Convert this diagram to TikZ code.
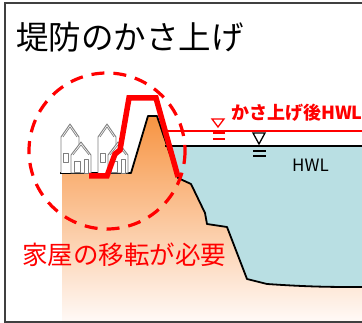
\documentclass[tikz,border=0pt]{standalone}
\usepackage{fontspec}
\setmainfont{Noto Sans CJK JP}
\usetikzlibrary{positioning}

\definecolor{river}{RGB}{185,223,227}
\definecolor{soil}{RGB}{247,148,66}
\definecolor{soilpale}{RGB}{255,250,248}
\definecolor{housegray}{RGB}{128,128,128}

\tikzset{
  houseline/.style={draw=housegray, line width=0.9pt, fill=white, line join=round},
  hwlmark/.style={line width=1.3pt},
  bankline/.style={line width=1.8pt, line join=round},
}

\begin{document}
\begin{tikzpicture}[x=1pt, y=-1pt]
\useasboundingbox (0,0) rectangle (362,323);
\fill [white] (0,0) rectangle (362,323);

% river water, the bank is filled over it
\fill [river] (165,146) rectangle (362,300);

% ground and levee
\shade [top color=soil, bottom color=soilpale]
      (62,173) -- (131,173) -- (148,116) -- (157,116) -- (178,178) -- (191,184)
      -- (205,213) -- (207,224) -- (227,227) -- (247,279) -- (267,284)
      to [bend right=2] (362,287) -- (362,323) -- (62,323) -- cycle;
\draw [bankline] (60,173) -- (131,173) -- (148,116) -- (157,116) -- (178,178)
      -- (191,184) -- (205,213) -- (207,224) -- (227,227) -- (247,279) -- (267,284)
      to [bend right=2] (362,287);
\draw [line width=1.2pt] (165,146) -- (362,146);

% houses behind the levee
\foreach \dx in {58,95} {
  \begin{scope}[shift={(\dx,173)}]
    \draw [houseline] (3,0) -- (3,-36) -- (12,-49) -- (21,-36) -- (21,0);
    \draw [housegray, line width=0.7pt] (5,-36) -- (12,-46) -- (19,-36);
    \draw [houseline] (5,-20) rectangle (10,-11);
    \draw [houseline] (13,0) -- (13,-18) -- (23,-31) -- (33,-18) -- (33,0) -- cycle;
    \draw [housegray, line width=0.7pt] (15,-18) -- (23,-28) -- (31,-18);
    \draw [houseline] (16,-12) rectangle (22,-1);
    \draw [houseline] (26,-14) rectangle (30,0);
  \end{scope}
}

% water levels
\draw [red, line width=2pt] (166,131) -- (362,131);
\draw [hwlmark] (253,133) -- (265,133) -- (259,144) -- cycle;
\draw [hwlmark] (253,151) -- (266,151) (253,156) -- (266,156);
\draw [hwlmark, red] (212,119) -- (224,119) -- (218,127) -- cycle;
\draw [hwlmark, red] (213,133) -- (225,133) (213,139) -- (225,139);

% raised levee
\draw [red, line width=5.5pt, line join=miter]
      (89,176) -- (107,176) -- (115,154) -- (120,150) -- (129,98) -- (156,98) -- (178,177);

% area to be relocated
\draw [red, line width=3.2pt, dash pattern=on 13pt off 9pt] (107,151) circle [radius=78];

\node (title) [anchor=west, inner sep=0, font=\fontsize{32.5}{33}\selectfont] at (16,37) {堤防のかさ上げ};
\node (newhwl) [anchor=west, inner sep=0, text=red, font=\bfseries\fontsize{18}{19}\selectfont] at (231,113) {かさ上げ後HWL};
\node (hwl) [anchor=west, inner sep=0, font=\fontsize{17}{17}\selectfont] at (292,165) {HWL};
\node (move) [anchor=west, inner sep=0, text=red, font=\fontsize{25.5}{26}\selectfont] at (22,255) {家屋の移転が必要};

\draw [black!75, line width=1.5pt] (5,3) rectangle (375,322);
\end{tikzpicture}
\end{document}
